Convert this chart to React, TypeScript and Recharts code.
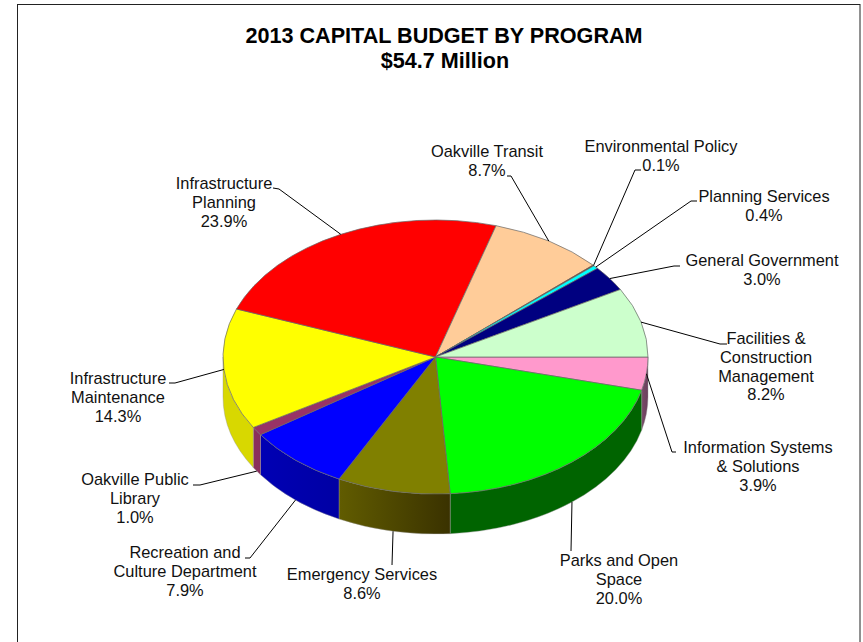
import React from 'react';
import { PieChart, Pie } from 'recharts';

const WIDTH = 863;
const HEIGHT = 642;

const CX = 435.5;
const CY = 357;
const RX = 212.5;
const RY = 137;
const DEPTH = 40;

const FONT = '"Liberation Sans", Arial, sans-serif';

// slices run clockwise from 3 o'clock
const programs = [
  ['Information Systems', '& Solutions'],
  ['Parks and Open', 'Space'],
  ['Emergency Services'],
  ['Recreation and', 'Culture Department'],
  ['Oakville Public', 'Library'],
  ['Infrastructure', 'Maintenance'],
  ['Infrastructure', 'Planning'],
  ['Oakville Transit'],
  ['Environmental Policy'],
  ['Planning Services'],
  ['General Government'],
  ['Facilities &', 'Construction', 'Management'],
];
const shares = [3.9, 20.0, 8.6, 7.9, 1.0, 14.3, 23.9, 8.7, 0.1, 0.4, 3.0, 8.2];
const topColors = [
  '#FF99CC', '#00FF00', '#808000', '#0000FF', '#993366', '#FFFF00',
  '#FF0000', '#FFCC99', '#993300', '#00FFFF', '#000080', '#CCFFCC',
];
const sideLeft = [
  '#7a4a68', '#006400', '#615c00', '#0000b4', '#8a2e5c', '#d8d800',
  '#cc0000', '#cca37a', '#7a2900', '#00cccc', '#000066', '#a3cca3',
];
const sideRight = [
  '#6a3f5c', '#006400', '#3a3200', '#0000a4', '#8a2e5c', '#d8d800',
  '#cc0000', '#cca37a', '#7a2900', '#00cccc', '#000066', '#a3cca3',
];

// text centre, first baseline and the elbow points of each leader line
const labelLayout = [
  { x: 758, y: 453, elbow: [[672, 452], [676, 452]] },
  { x: 619, y: 566, elbow: [[571, 551]] },
  { x: 362, y: 580, elbow: [[392, 565]] },
  { x: 185, y: 558, elbow: [[250, 558], [245, 558]] },
  { x: 135, y: 485, elbow: [[200, 485], [193, 485]] },
  { x: 118, y: 384, elbow: [[175, 383], [169, 383]] },
  { x: 224, y: 189, elbow: [[279, 189], [273, 188]] },
  { x: 487, y: 157, elbow: [[511, 176], [507, 176]] },
  { x: 661, y: 152, elbow: [[635, 170], [641, 170]] },
  { x: 764, y: 202, elbow: [[691, 201], [697, 201]] },
  { x: 762, y: 266, elbow: [[674, 266], [680, 266]] },
  { x: 766, y: 344, elbow: [[720, 344], [727, 344]] },
];

const rows = programs.map((lines, i) => ({
  name: lines.join(' '),
  value: shares[i],
  fill: topColors[i],
}));

// point on the tilted rim, angle in degrees clockwise from 3 o'clock
const rim = (deg: number, drop = 0) => {
  const rad = (deg * Math.PI) / 180;
  return { x: CX + RX * Math.cos(rad), y: CY + RY * Math.sin(rad) + drop };
};

const TiltedSlice = (props: any) => {
  const index = rows.findIndex((r) => r.name === props.name);
  const from = -props.startAngle;
  const to = -props.endAngle;
  const a = rim(from);
  const b = rim(to);
  const large = to - from > 180 ? 1 : 0;
  const top = `M${CX},${CY} L${a.x},${a.y} A${RX},${RY} 0 ${large} 1 ${b.x},${b.y} Z`;

  // only the front half of the wall can be seen
  const wallFrom = Math.max(from, 0);
  const wallTo = Math.min(to, 180);
  let wall = null;
  if (wallTo > wallFrom) {
    const p = rim(wallFrom);
    const q = rim(wallTo);
    const pd = rim(wallFrom, DEPTH);
    const qd = rim(wallTo, DEPTH);
    const id = `wall-${index}`;
    wall = (
      <g>
        <defs>
          <linearGradient id={id} x1="0" y1="0" x2="1" y2="0">
            <stop offset="0" stopColor={sideLeft[index]} />
            <stop offset="1" stopColor={sideRight[index]} />
          </linearGradient>
        </defs>
        <path
          d={`M${p.x},${p.y} A${RX},${RY} 0 0 1 ${q.x},${q.y} L${qd.x},${qd.y} A${RX},${RY} 0 0 0 ${pd.x},${pd.y} Z`}
          fill={`url(#${id})`}
          stroke="#999"
          strokeOpacity={0.5}
          strokeWidth={0.8}
        />
      </g>
    );
  }
  return (
    <g>
      {wall}
      <path d={top} fill={props.fill} stroke="#666" strokeOpacity={0.7} strokeWidth={1} />
    </g>
  );
};

const SliceLabel = (props: any) => {
  const { index, midAngle, value } = props;
  const layout = labelLayout[index];
  const angle = ((360 - midAngle) % 360 + 360) % 360;
  // front labels hang from the bottom of the wall, the rest from the rim
  const start = rim(angle, angle > 20 && angle < 160 ? DEPTH : 0);
  const points = [[start.x, start.y], ...layout.elbow].map((p) => p.join(',')).join(' ');
  const lines = [...programs[index], `${value.toFixed(1)}%`];
  return (
    <g>
      <polyline points={points} fill="none" stroke="#000" strokeWidth={1} />
      <text x={layout.x} y={layout.y} textAnchor="middle" fontFamily={FONT} fontSize={16.4} fill="#111">
        {lines.map((line, i) => (
          <tspan key={i} x={layout.x} dy={i === 0 ? 0 : 18.8}>
            {line}
          </tspan>
        ))}
      </text>
    </g>
  );
};

const App = () => {
  return (
    <div style={{ position: 'absolute', left: 0, top: 0, width: WIDTH, height: HEIGHT, overflow: 'hidden', background: '#fff' }}>
      <PieChart width={WIDTH} height={HEIGHT} margin={{ top: 0, right: 0, bottom: 0, left: 0 }}>
        <rect x={17.5} y={4.5} width={842.5} height={700} fill="#fff" stroke="#222" strokeWidth={1} />
        <text x={444} y={43} textAnchor="middle" fontFamily={FONT} fontSize={21.6} fontWeight="bold" fill="#000">
          2013 CAPITAL BUDGET BY PROGRAM
        </text>
        <text x={445} y={68} textAnchor="middle" fontFamily={FONT} fontSize={21.6} fontWeight="bold" fill="#000">
          $54.7 Million
        </text>
        <Pie
          data={rows}
          dataKey="value"
          nameKey="name"
          cx={CX}
          cy={CY}
          innerRadius={0}
          outerRadius={RX}
          startAngle={0}
          endAngle={-360}
          shape={TiltedSlice}
          label={SliceLabel}
          labelLine={false}
          isAnimationActive={false}
        />
      </PieChart>
    </div>
  );
};

export default App;
